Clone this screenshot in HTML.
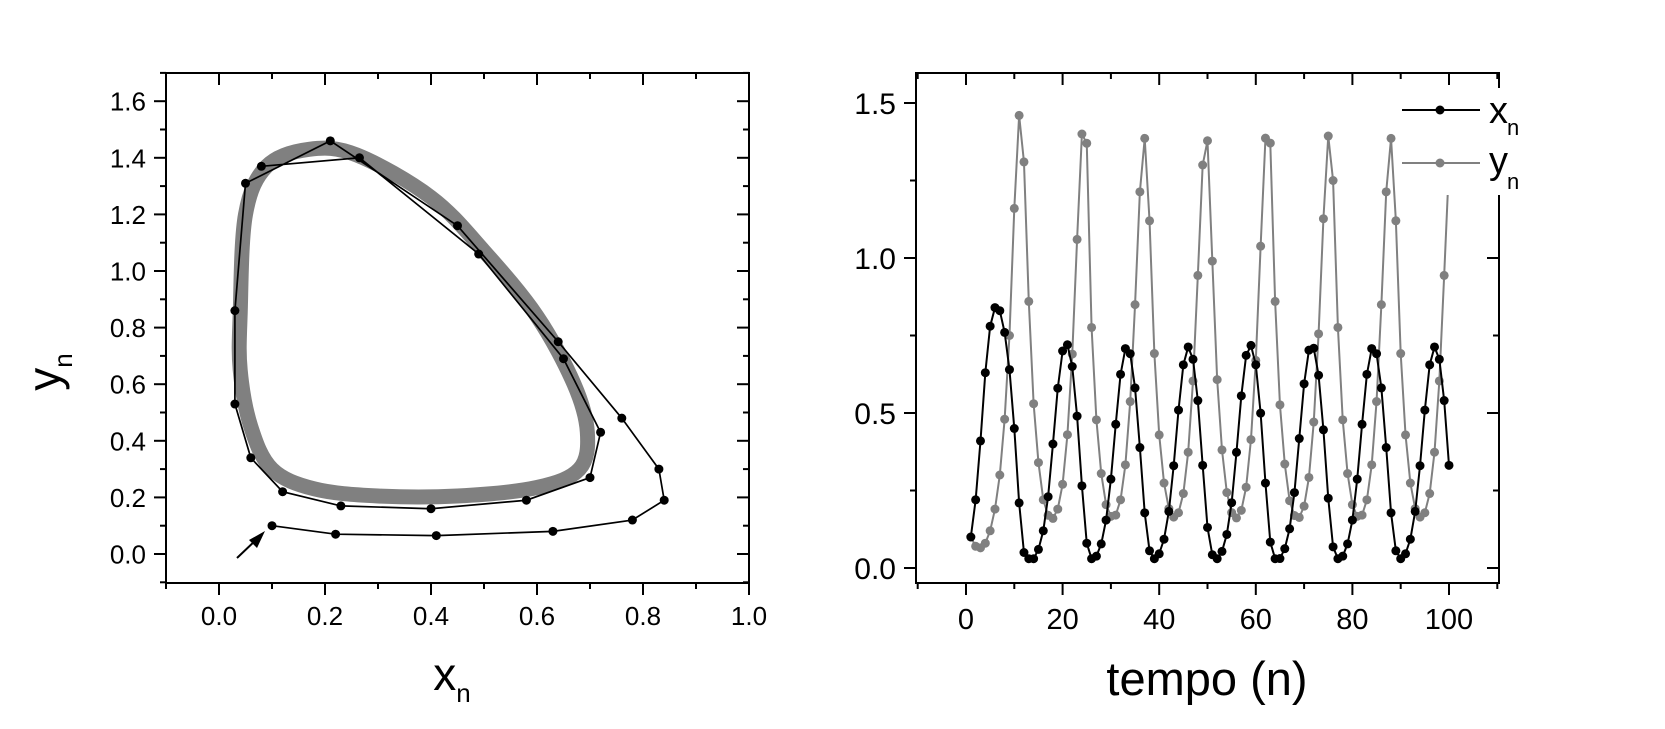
<!DOCTYPE html>
<html><head><meta charset="utf-8"><style>
html,body{margin:0;padding:0;background:#fff;}
svg{display:block;}
text{font-family:"Liberation Sans",Arial,sans-serif;fill:#000;}
</style></head><body>
<svg id="s" width="1665" height="729" viewBox="0 0 1665 729" xmlns="http://www.w3.org/2000/svg">
<rect width="1665" height="729" fill="#fff"/>
<g id="g"></g>
<!-- axis titles -->
<text x="452" y="690" font-size="46" text-anchor="middle">x<tspan font-size="26" dy="12">n</tspan></text>
<g transform="translate(60,372) rotate(-90)"><text x="0" y="0" font-size="46" text-anchor="middle">y<tspan font-size="26" dy="12">n</tspan></text></g>
<text x="1207" y="695" font-size="47" text-anchor="middle">tempo (n)</text>
<!-- legend -->
<rect x="1398" y="88" width="150" height="107" fill="#fff"/>
<line x1="1402" y1="110" x2="1480" y2="110" stroke="#000" stroke-width="2"/>
<circle cx="1440" cy="110" r="4.5" fill="#000"/>
<text x="1489" y="123" font-size="38">x</text><text x="1507" y="135" font-size="22">n</text>
<line x1="1402" y1="163" x2="1480" y2="163" stroke="#808080" stroke-width="2"/>
<circle cx="1440" cy="163" r="4.5" fill="#808080"/>
<text x="1489" y="173" font-size="38">y</text><text x="1507" y="189" font-size="22">n</text>
</svg>
<script>
var NS="http://www.w3.org/2000/svg",G=document.getElementById("g");
function el(t,a,txt){var e=document.createElementNS(NS,t);for(var k in a)e.setAttribute(k,a[k]);if(txt!==undefined)e.textContent=txt;G.appendChild(e);return e;}
function X(x){return 219+530*x;} function Y(y){return 554-283*y;}
function T(n){return 966+4.83*n;} function V(v){return 568-310*v;}
function ln(x1,y1,x2,y2){el("line",{x1:x1,y1:y1,x2:x2,y2:y2,stroke:"#000","stroke-width":2});}

var L=166,R=749,Tp=73,B=583;
var cyc=[[0.04,0.85],[0.05,1.2],[0.09,1.37],[0.17,1.43],[0.26,1.41],[0.4,1.26],[0.5,1.07],[0.6,0.84],[0.67,0.6],[0.695,0.43],[0.68,0.3],[0.6,0.235],[0.45,0.205],[0.3,0.205],[0.18,0.23],[0.1,0.3],[0.06,0.45],[0.04,0.65]];
var P=cyc.map(function(p){return [X(p[0]),Y(p[1])];}),n=P.length,d="M"+P[0][0]+","+P[0][1];
for(var i=0;i<n;i++){var p0=P[(i-1+n)%n],p1=P[i],p2=P[(i+1)%n],p3=P[(i+2)%n];
d+=" C"+(p1[0]+(p2[0]-p0[0])/6)+","+(p1[1]+(p2[1]-p0[1])/6)+" "+(p2[0]-(p3[0]-p1[0])/6)+","+(p2[1]-(p3[1]-p1[1])/6)+" "+p2[0]+","+p2[1];}
el("path",{d:d+"Z",fill:"none",stroke:"#808080","stroke-width":15});

var tr=[[0.1,0.1],[0.22,0.07],[0.41,0.065],[0.63,0.08],[0.78,0.12],[0.84,0.19],[0.83,0.3],[0.76,0.48],[0.64,0.75],[0.45,1.16],[0.21,1.46],[0.05,1.31],[0.03,0.86],[0.03,0.53],[0.06,0.34],[0.12,0.22],[0.23,0.17],[0.40,0.16],[0.58,0.19],[0.70,0.27],[0.72,0.43],[0.65,0.69],[0.49,1.06],[0.265,1.40],[0.08,1.37]];
el("polyline",{points:tr.map(function(p){return X(p[0])+","+Y(p[1]);}).join(" "),fill:"none",stroke:"#000","stroke-width":1.7});
tr.forEach(function(p){el("circle",{cx:X(p[0]),cy:Y(p[1]),r:4.5,fill:"#000"});});
ln(237,558,258,538);
el("polygon",{points:"265,531 249,540 257,548",fill:"#000"});

el("rect",{x:L,y:Tp,width:R-L,height:B-Tp,fill:"none",stroke:"#000","stroke-width":2});
for(var k=-1;k<=10;k++){var v=k/10,x=X(v),maj=(k%2==0);
 ln(x,B,x,B+(maj?12:6)); ln(x,Tp,x,Tp+(maj?12:6));
 if(maj&&k>=0) el("text",{x:x,y:625,"font-size":26,"text-anchor":"middle"},v.toFixed(1));}
for(var k=-1;k<=17;k++){var v=k/10,y=Y(v),maj=(k%2==0);
 ln(L,y,L-(maj?12:6),y); ln(R,y,R-(maj?12:6),y);
 if(maj&&k>=0) el("text",{x:146,y:y+9.5,"font-size":26,"text-anchor":"end"},v.toFixed(1));}

var L2=916,R2=1499;
var tpl=tr.slice(12),Pd=12.75,xs=[],ys=[];
for(var m=1;m<=100;m++){var p;
 if(m<=25)p=tr[m-1];else{var ph=((m-13)%Pd)*13/Pd,i0=Math.floor(ph),f=ph-i0,a=tpl[i0%13],b=tpl[(i0+1)%13];
 p=[a[0]+(b[0]-a[0])*f,a[1]+(b[1]-a[1])*f];}
 xs.push([T(m),V(p[0])]);ys.push([T(m),V(p[1])]);}
el("polyline",{points:ys.map(function(p){return p.join(",");}).join(" "),fill:"none",stroke:"#808080","stroke-width":2});
ys.forEach(function(p){el("circle",{cx:p[0],cy:p[1],r:4.5,fill:"#808080"});});
el("polyline",{points:xs.map(function(p){return p.join(",");}).join(" "),fill:"none",stroke:"#000","stroke-width":2});
xs.forEach(function(p){el("circle",{cx:p[0],cy:p[1],r:4.5,fill:"#000"});});

el("rect",{x:L2,y:Tp,width:R2-L2,height:B-Tp,fill:"none",stroke:"#000","stroke-width":2});
for(var k=-1;k<=11;k++){var x=T(k*10),maj=(k%2==0);
 ln(x,B,x,B+(maj?12:6)); ln(x,Tp,x,Tp+(maj?12:6));
 if(maj&&k>=0) el("text",{x:x,y:629,"font-size":29,"text-anchor":"middle"},String(k*10));}
for(var k=0;k<=6;k++){var y=V(k*0.25),maj=(k%2==0);
 ln(L2,y,L2-(maj?12:6),y); ln(R2,y,R2-(maj?12:6),y);
 if(maj) el("text",{x:896,y:y+11,"font-size":30,"text-anchor":"end"},(k*0.25).toFixed(1));}
</script>
</body></html>
